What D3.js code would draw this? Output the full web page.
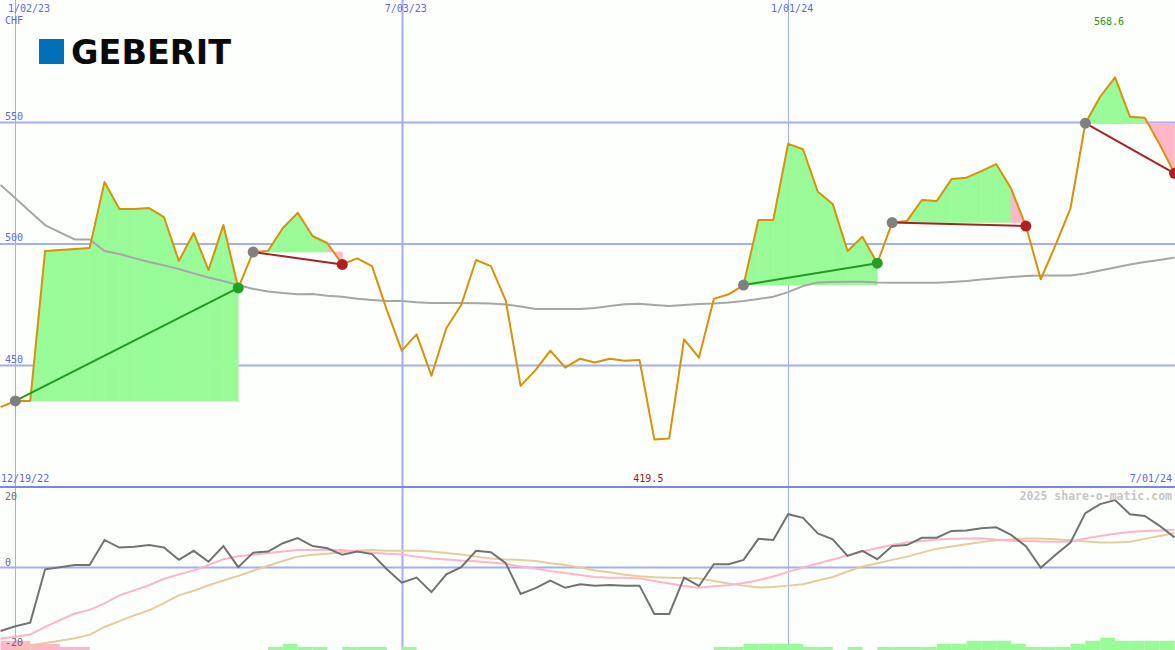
<!DOCTYPE html>
<html>
<head>
<meta charset="utf-8">
<script src="https://cdn.jsdelivr.net/npm/d3@7"></script>
<style>
  body { margin: 0; background: #fdfffd; }
  text { font-family: "DejaVu Sans Mono", monospace; }
</style>
</head>
<body>
<script>
// weekly closes, CHF, one point per monday from 12/26/22 to 7/01/24
var dates = d3.utcMonday.range(new Date(Date.UTC(2022, 11, 26)), new Date(Date.UTC(2024, 6, 2)));

var price = [432.9, 435.4, 435.4, 497.1, 497.5, 497.9, 498.4, 525.5, 514.4, 514.4,
  514.8, 511.1, 493.0, 504.5, 489.3, 507.8, 481.9, 496.7, 497.1, 506.6,
  512.8, 503.3, 500.3, 491.6, 494.1, 490.9, 472.8, 456.1, 462.8, 445.8,
  465.3, 474.9, 493.4, 490.9, 476.7, 441.6, 448.1, 456.1, 449.1, 452.8,
  451.2, 452.8, 452.0, 452.3, 419.5, 420.0, 460.8, 453.2, 477.4, 479.3,
  483.1, 509.9, 509.9, 541.2, 539.0, 521.5, 516.5, 497.1, 503.0, 492.1,
  508.8, 509.5, 518.1, 517.7, 526.7, 527.3, 530.0, 532.9, 522.9, 507.4,
  485.5, 499.6, 514.7, 549.7, 560.6, 568.6, 552.4, 552.0, 541.0, 529.1];

var movingAvg = [524.3, 518.8, 513.3, 507.8, 504.8, 501.9, 501.9, 497.1, 495.9, 494.2,
  492.6, 491.2, 489.7, 487.9, 486.2, 484.8, 483.1, 481.5, 480.5, 479.8,
  479.3, 479.4, 478.7, 478.3, 477.5, 477.0, 476.5, 476.5, 476.0, 475.7,
  475.7, 475.7, 475.6, 475.5, 475.1, 474.3, 473.3, 473.3, 473.3, 473.3,
  473.7, 474.5, 475.2, 475.4, 474.9, 474.5, 474.9, 475.3, 475.5, 475.9,
  476.5, 477.4, 478.3, 480.2, 482.7, 484.2, 484.4, 484.5, 484.5, 484.2,
  484.1, 484.1, 484.1, 484.1, 484.4, 484.8, 485.4, 485.9, 486.4, 486.8,
  487.0, 487.0, 487.0, 487.9, 489.1, 490.3, 491.6, 492.6, 493.4, 494.4];

// lower panel
var momentum = [-17.5, -16.2, -15.2, -0.5, 0.1, 0.7, 0.7, 7.6, 5.5, 5.7,
  6.2, 5.5, 2.1, 4.6, 1.6, 5.9, 0.1, 4.1, 4.4, 6.7,
  8.1, 5.9, 5.3, 3.5, 4.4, 3.7, -0.5, -4.2, -2.8, -6.8,
  -1.9, 0.1, 4.6, 4.2, 1.2, -7.3, -5.7, -3.6, -5.6, -4.6,
  -5.0, -4.8, -5.0, -5.0, -12.8, -12.8, -2.8, -5.1, 0.9, 0.9,
  2.1, 7.9, 7.6, 14.7, 13.7, 9.4, 7.8, 3.2, 4.6, 2.3,
  5.9, 6.2, 8.2, 8.2, 10.1, 10.2, 10.8, 11.1, 9.0, 5.9,
  -0.1, 3.5, 6.9, 15.0, 17.5, 18.6, 14.7, 14.2, 11.5, 8.3];

var pinkAvg = [-19.6, -19.1, -18.5, -16.4, -14.5, -12.7, -11.7, -9.9, -7.7, -6.3,
  -4.9, -3.1, -1.9, -0.8, 0.7, 2.3, 3.1, 3.5, 4.0, 4.4,
  4.8, 4.8, 4.8, 4.8, 4.5, 4.1, 3.8, 3.6, 3.0, 2.5,
  2.2, 1.9, 1.7, 1.4, 1.0, 0.3, -0.3, -1.0, -1.5, -2.1,
  -2.6, -2.8, -2.8, -3.0, -3.7, -4.4, -5.1, -5.6, -5.2, -4.9,
  -4.3, -3.5, -2.5, -1.2, 0.0, 1.1, 2.2, 3.3, 4.4, 5.4,
  6.2, 6.9, 7.3, 7.7, 7.9, 8.0, 8.1, 7.7, 7.4, 7.3,
  7.2, 7.1, 7.2, 8.0, 8.7, 9.3, 9.8, 10.1, 10.2, 10.4];

var tanAvg = [-23.5, -22.7, -21.5, -20.8, -20.2, -19.5, -18.6, -16.4, -14.8, -13.2,
  -11.8, -9.8, -7.7, -6.4, -4.9, -3.6, -2.3, -0.9, 0.5, 1.8,
  3.0, 3.5, 3.8, 4.3, 4.7, 4.8, 4.6, 4.6, 4.6, 4.4,
  4.0, 3.6, 3.0, 2.5, 2.2, 2.1, 1.8, 1.2, 0.7, 0.0,
  -0.8, -1.3, -2.0, -2.4, -2.7, -2.8, -2.9, -3.0, -3.7, -4.4,
  -5.0, -5.5, -5.4, -5.0, -4.6, -3.6, -2.6, -1.1, 0.3, 1.2,
  2.1, 3.0, 4.1, 5.2, 5.8, 6.4, 7.0, 7.5, 7.7, 8.0,
  8.0, 7.8, 7.5, 7.2, 6.9, 6.9, 7.1, 7.9, 8.7, 9.5];

var bars = [-3, -3, -2, -2, -1, -1, 0, 0, 0, 0,
  0, 0, 0, 0, 0, 0, 0, 0, 1, 2,
  1, 1, 0, 1, 1, 1, 0, 1, 0, 0,
  0, 0, 0, 0, 0, 0, 0, 0, 0, 0,
  0, 0, 0, 0, 0, 0, 0, 0, 1, 1,
  2, 2, 2, 2, 1, 1, 0, 1, 0, 1,
  1, 1, 1, 2, 2, 3, 3, 3, 2, 1,
  1, 1, 2, 3, 4, 3, 3, 3, 3, 3];

// signals: index of entry and exit week
var trades = [[1, 16], [17, 23], [50, 59], [60, 69], [73, 79]];

var priceTicks = [450, 500, 550];
var gridDates = [new Date(Date.UTC(2023, 0, 2)), new Date(Date.UTC(2023, 6, 3)), new Date(Date.UTC(2024, 0, 1))];
var gridLabels = ['1/02/23', '7/03/23', '1/01/24'];
var lowerTicks = [20, 0, -20];

var width = 1175;
var height = 650;
var split = 487;

var gridColor = '#a4aef2';
var labelColor = '#5a68e8';

var x = d3.scaleUtc()
  .domain([dates[0], dates[dates.length - 1]])
  .range([0.5, 1174.5]);
var y = d3.scaleLinear().domain([400, 600]).range([split, 1]);
var y2 = d3.scaleLinear().domain([-20, 20]).range([640, 495]);
var yb = d3.scaleLinear().domain([0, 4]).range([650, 637.7]);

var svg = d3.select('body')
  .append('svg')
  .attr('width', width)
  .attr('height', height)
  .style('display', 'block')
  .style('background', '#fdfffd');

var defs = svg.append('defs');
defs.append('clipPath').attr('id', 'top')
  .append('rect').attr('x', 0).attr('y', 0).attr('width', width).attr('height', split);
defs.append('clipPath').attr('id', 'bottom')
  .append('rect').attr('x', 0).attr('y', split + 1).attr('width', width).attr('height', height - split);

// grid
svg.selectAll('.hgrid').data(priceTicks).enter()
  .append('line')
  .attr('x1', 0).attr('x2', width)
  .attr('y1', function(d) { return y(d); })
  .attr('y2', function(d) { return y(d); })
  .attr('stroke', gridColor).attr('stroke-width', 2);

svg.selectAll('.vgrid').data(gridDates).enter()
  .append('line')
  .attr('x1', function(d) { return Math.round(x(d)) + 0.5; })
  .attr('x2', function(d) { return Math.round(x(d)) + 0.5; })
  .attr('y1', 0).attr('y2', height)
  .attr('stroke', gridColor)
  .attr('stroke-width', function(d, i) { return i === 1 ? 2 : 1; });

svg.append('line')
  .attr('x1', 0).attr('x2', width)
  .attr('y1', y2(0)).attr('y2', y2(0))
  .attr('stroke', gridColor).attr('stroke-width', 2);

svg.append('line')
  .attr('x1', 0).attr('x2', width)
  .attr('y1', split).attr('y2', split)
  .attr('stroke', '#7786ea').attr('stroke-width', 2);

// logo
svg.append('rect')
  .attr('x', 39).attr('y', 39).attr('width', 25).attr('height', 25)
  .attr('fill', '#0071b9');
svg.append('text')
  .attr('x', 71).attr('y', 64)
  .attr('textLength', 160)
  .attr('lengthAdjust', 'spacingAndGlyphs')
  .style('font-family', '"DejaVu Sans", sans-serif')
  .style('font-weight', 'bold')
  .style('font-size', '33px')
  .attr('fill', '#0a0a0a')
  .text('GEBERIT');

// trade fills, one quad per week
var main = svg.append('g').attr('clip-path', 'url(#top)');
var segs = [];
trades.forEach(function(t) {
  var base = price[t[0]];
  for (var i = t[0]; i < t[1]; i++) {
    segs.push({ i: i, base: base, up: price[i + 1] >= base });
  }
});

main.selectAll('.seg').data(segs).enter()
  .append('path')
  .attr('d', function(s) {
    var x0 = x(dates[s.i]), x1 = x(dates[s.i + 1]);
    return 'M' + x0 + ',' + y(price[s.i]) + 'L' + x1 + ',' + y(price[s.i + 1]) +
      'L' + x1 + ',' + y(s.base) + 'L' + x0 + ',' + y(s.base) + 'Z';
  })
  .attr('fill', function(s) { return s.up ? '#98fb98' : '#ffb6c8'; })
  .attr('stroke', function(s) { return s.up ? '#98fb98' : '#ffb6c8'; })
  .attr('stroke-width', 0.5);

var line = function(arr, sc) {
  return d3.line()
    .x(function(d, i) { return x(dates[i]); })
    .y(function(d) { return sc(d); })(arr);
};

main.append('path')
  .attr('d', line(movingAvg, y))
  .attr('fill', 'none').attr('stroke', '#a6a6a6').attr('stroke-width', 2);

main.append('path')
  .attr('d', line(price, y))
  .attr('fill', 'none').attr('stroke', '#d99107').attr('stroke-width', 2)
  .attr('stroke-linejoin', 'round');

main.selectAll('.trade').data(trades).enter()
  .append('line')
  .attr('x1', function(t) { return x(dates[t[0]]); })
  .attr('y1', function(t) { return y(price[t[0]]); })
  .attr('x2', function(t) { return x(dates[t[1]]); })
  .attr('y2', function(t) { return y(price[t[1]]); })
  .attr('stroke', function(t) { return price[t[1]] >= price[t[0]] ? '#229a22' : '#a82222'; })
  .attr('stroke-width', 2);

main.selectAll('.entry').data(trades).enter()
  .append('circle')
  .attr('cx', function(t) { return x(dates[t[0]]); })
  .attr('cy', function(t) { return y(price[t[0]]); })
  .attr('r', 5.5)
  .attr('fill', '#808080');

main.selectAll('.exit').data(trades).enter()
  .append('circle')
  .attr('cx', function(t) { return x(dates[t[1]]); })
  .attr('cy', function(t) { return y(price[t[1]]); })
  .attr('r', 5.5)
  .attr('fill', function(t) { return price[t[1]] >= price[t[0]] ? '#22a022' : '#b02020'; });

// lower panel
var low = svg.append('g').attr('clip-path', 'url(#bottom)');

low.selectAll('.bar').data(bars).enter()
  .append('rect')
  .attr('x', function(d, i) { return x(dates[i]); })
  .attr('width', function(d, i) { return i < dates.length - 1 ? x(dates[i + 1]) - x(dates[i]) : 20; })
  .attr('y', function(d) { return yb(Math.abs(d)); })
  .attr('height', function(d) { return 650 - yb(Math.abs(d)); })
  .attr('fill', function(d) { return d < 0 ? '#ffb6c8' : '#98fb98'; });

low.append('path')
  .attr('d', line(tanAvg, y2))
  .attr('fill', 'none').attr('stroke', '#e6cc98').attr('stroke-width', 2);
low.append('path')
  .attr('d', line(pinkAvg, y2))
  .attr('fill', 'none').attr('stroke', '#ffb4c8').attr('stroke-width', 2);
low.append('path')
  .attr('d', line(momentum, y2))
  .attr('fill', 'none').attr('stroke', '#727272').attr('stroke-width', 2);

// labels
svg.selectAll('.plab').data(priceTicks).enter()
  .append('text')
  .attr('x', 5).attr('y', function(d) { return y(d) - 3; })
  .style('font-size', '10px').attr('fill', labelColor)
  .text(function(d) { return d; });

svg.selectAll('.dlab').data(gridDates).enter()
  .append('text')
  .attr('x', function(d, i) { return i === 0 ? 8 : x(d) + 4; })
  .attr('y', 12)
  .attr('text-anchor', function(d, i) { return i === 0 ? 'start' : 'middle'; })
  .style('font-size', '10px').attr('fill', labelColor)
  .text(function(d, i) { return gridLabels[i]; });

svg.append('text').attr('x', 5).attr('y', 24)
  .style('font-size', '10px').attr('fill', labelColor).text('CHF');

svg.append('text').attr('x', 1).attr('y', 482)
  .style('font-size', '10px').attr('fill', labelColor).text('12/19/22');
svg.append('text').attr('x', 1172).attr('y', 482).attr('text-anchor', 'end')
  .style('font-size', '10px').attr('fill', labelColor).text('7/01/24');

var maxI = d3.maxIndex(price);
var minI = d3.minIndex(price);
svg.append('text').attr('x', x(dates[maxI]) - 6).attr('y', 25).attr('text-anchor', 'middle')
  .style('font-size', '10px').attr('fill', '#229a22').text(d3.max(price).toFixed(1));
svg.append('text').attr('x', x(dates[minI]) - 6).attr('y', 482).attr('text-anchor', 'middle')
  .style('font-size', '10px').attr('fill', '#a01818').text(d3.min(price).toFixed(1));

svg.selectAll('.llab').data(lowerTicks).enter()
  .append('text')
  .attr('x', 5)
  .attr('y', function(d) { return d === 20 ? 500 : (d === 0 ? y2(d) - 2 : 646); })
  .style('font-size', '10px').attr('fill', '#6a6a6a')
  .text(function(d) { return d; });

svg.append('text').attr('x', 1172).attr('y', 500).attr('text-anchor', 'end')
  .style('font-size', '11.5px').style('font-weight', 'bold').attr('fill', '#c6c6c6')
  .text('2025 share-o-matic.com');
</script>
</body>
</html>
